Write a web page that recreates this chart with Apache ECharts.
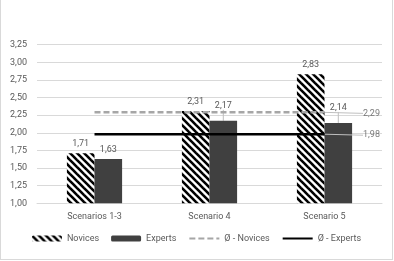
<!DOCTYPE html>
<html><head><meta charset="utf-8">
<script src="https://cdn.jsdelivr.net/npm/echarts@6/dist/echarts.min.js"></script>
<style>
html,body{margin:0;padding:0;background:#fff;}
#c{width:393px;height:260px;box-sizing:border-box;border:1px solid #d9d9d9;border-top:none;}
</style></head>
<body><div id="c"></div>
<script>
const categories = ['Scenarios 1-3', 'Scenario 4', 'Scenario 5'];
const novices = [1.71, 2.31, 2.83];
const experts = [1.63, 2.17, 2.14];
const avgNovices = [2.29, 2.29, 2.29];
const avgExperts = [1.98, 1.98, 1.98];
const yTicks = {min: 1, max: 3.25, step: 0.25};

function hatch() {
  const s = 7;
  const cv = document.createElement('canvas');
  cv.width = s; cv.height = s;
  const ctx = cv.getContext('2d');
  ctx.fillStyle = '#fff'; ctx.fillRect(0, 0, s, s);
  ctx.strokeStyle = '#000'; ctx.lineWidth = 2.6; ctx.lineCap = 'square';
  for (const k of [-s, 0, s]) {
    ctx.beginPath(); ctx.moveTo(k, 0); ctx.lineTo(k + s, s); ctx.stroke();
  }
  return cv;
}
const fmt = v => v.toFixed(2).replace('.', ',');
const txt = '#595959';
const font = 'Roboto';
const leader = {show: true, lineStyle: {color: '#bfbfbf', width: 1}};
const chart = echarts.init(document.getElementById('c'));
const endLabel = (arr, name) => ({
  type: 'scatter', name: name + ' label', silent: true, z: 6,
  data: [[arr.length - 1, arr[arr.length - 1]]],
  symbolSize: 1, itemStyle: {color: 'rgba(0,0,0,0)'},
  label: {show: true, position: 'right', distance: 2, color: txt, fontSize: 9,
    verticalAlign: 'middle', formatter: p => fmt(p.value[1])},
  labelLine: leader,
  labelLayout: {dx: 36, dy: 1}
});
chart.setOption({
  animation: false,
  textStyle: {fontFamily: font},
  grid: {left: 36, right: 10, top: 44.7, bottom: 55.7},
  legend: {
    bottom: 11, itemGap: 12, itemWidth: 30, itemHeight: 6,
    textStyle: {color: txt, fontSize: 9, fontFamily: font},
    data: [
      {name: 'Novices'}, {name: 'Experts'},
      {name: 'Ø - Novices', itemStyle: {opacity: 0}},
      {name: 'Ø - Experts', itemStyle: {opacity: 0}}
    ]
  },
  xAxis: {
    type: 'category', data: categories,
    axisLine: {lineStyle: {color: '#d9d9d9'}}, axisTick: {show: false},
    axisLabel: {color: txt, fontSize: 9, margin: 9}
  },
  yAxis: {
    type: 'value', min: yTicks.min, max: yTicks.max, interval: yTicks.step,
    axisLabel: {color: txt, fontSize: 9, margin: 10, formatter: v => fmt(v)},
    splitLine: {lineStyle: {color: '#d9d9d9'}}
  },
  series: [
    {name: 'Novices', type: 'bar', data: novices, barGap: '0%', barCategoryGap: '52%',
      itemStyle: {color: {image: hatch(), repeat: 'repeat'}},
      label: {show: true, position: 'top', distance: 5, color: txt, fontSize: 9, formatter: p => fmt(p.value)}},
    {name: 'Experts', type: 'bar',
      data: experts.map((v, i) => i > 0 ? {value: v, labelLine: leader} : v),
      itemStyle: {color: '#404040'},
      label: {show: true, position: 'top', distance: 5, color: txt, fontSize: 9, formatter: p => fmt(p.value)},
      labelLine: {show: false},
      labelLayout: p => p.dataIndex > 0 ? {dy: -6} : {}},
    {name: 'Ø - Novices', type: 'line', data: avgNovices, symbol: 'none', z: 5,
      lineStyle: {color: '#a6a6a6', width: 2.5, type: [6, 3]},
      itemStyle: {color: '#a6a6a6'}},
    {name: 'Ø - Experts', type: 'line', data: avgExperts, symbol: 'none', z: 5,
      lineStyle: {color: '#000', width: 2.5},
      itemStyle: {color: '#000'}},
    endLabel(avgNovices, 'Ø - Novices'),
    endLabel(avgExperts, 'Ø - Experts')
  ]
});
</script></body></html>
